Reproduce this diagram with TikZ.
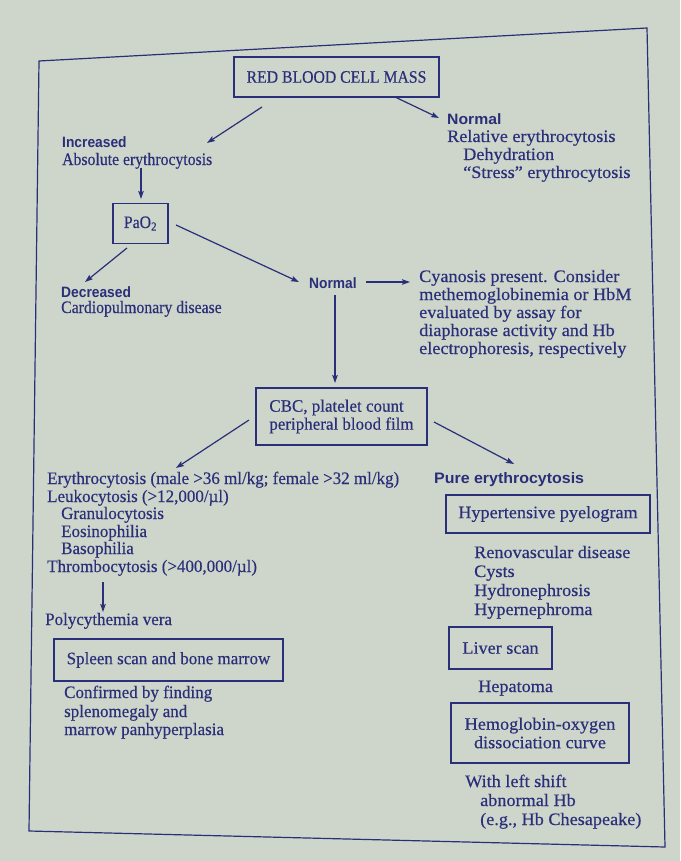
\documentclass[tikz,border=0pt]{standalone}
\usepackage{fontspec}
\setmainfont{Liberation Serif}[FakeStretch=0.9,FakeBold=0.35]
\newfontfamily\lser{Liberation Serif}[FakeStretch=0.97,FakeBold=0.35]
\newfontfamily\rser{Liberation Serif}[FakeStretch=1.04,FakeBold=0.35]
\newfontfamily\hsf{Liberation Sans}[FakeStretch=0.92]
\newfontfamily\hsfr{Liberation Sans}[FakeStretch=1.05]
\usetikzlibrary{arrows.meta}
\definecolor{bg}{RGB}{206,213,202}
\definecolor{ink}{RGB}{42,47,122}
\begin{document}
\begin{tikzpicture}[x=1pt,y=-1pt,
 txt/.style={anchor=base west,inner sep=0pt,text=ink,font=\fontsize{17.5}{18}\selectfont},
 txtl/.style={txt,font=\lser\fontsize{17.5}{18}\selectfont},
 txtr/.style={txt,font=\rser\fontsize{17.5}{18.5}\selectfont},
 lbl/.style={anchor=base west,inner sep=0pt,text=ink,font=\hsf\bfseries\fontsize{15}{17}\selectfont},
 lblr/.style={lbl,font=\hsfr\bfseries\fontsize{15}{17}\selectfont},
 box/.style={draw=ink,line width=1.5pt,text=ink,inner sep=0pt,font=\fontsize{17.5}{18}\selectfont,align=center},
 boxl/.style={box,font=\lser\fontsize{17.5}{18}\selectfont},
 boxr/.style={box,font=\rser\fontsize{17.5}{18.5}\selectfont},
 arr/.style={draw=ink,line width=1.2pt,-{Stealth[length=8pt,width=5.5pt,inset=1.5pt]}},
 frame/.style={draw=ink,line width=1.2pt}]
\fill[bg] (0,0) rectangle (680,861);
\useasboundingbox (0,0) rectangle (680,861);
\draw[frame] (39,61) -- (647,28) -- (665,847) -- (29,831) -- cycle;

% top
\node[box,minimum width=205pt,minimum height=40pt] (rbc) at (336.5,77) {RED BLOOD CELL MASS};
\node[lbl] (incr) at (62,148) {Increased};
\node[txt] (abs) at (62,165) {Absolute erythrocytosis};
\node[lblr] (norm1) at (447,125) {Normal};
\node[txtr] (rel) at (447,142) {Relative erythrocytosis};
\node[txtr] (dehyd) at (463,160) {Dehydration};
\node[txtr] (stress) at (463,178) {“Stress” erythrocytosis};

% PaO2
\node[box,minimum width=55pt,minimum height=40pt] (pao) at (140.5,223.5) {PaO\textsubscript{2}};
\node[lbl] (decr) at (61,297) {Decreased};
\node[txt] (cardio) at (61,313) {Cardiopulmonary disease};
\node[lbl] (norm2) at (309,288) {Normal};
\node[txtr] (cy1) at (419,282) {Cyanosis present. Consider};
\node[txtr] (cy2) at (419,300) {methemoglobinemia or HbM};
\node[txtr] (cy3) at (419,318) {evaluated by assay for};
\node[txtr] (cy4) at (419,336) {diaphorase activity and Hb};
\node[txtr] (cy5) at (419,354) {electrophoresis, respectively};

% CBC
\node[boxl,minimum width=171pt,minimum height=57pt,align=left] (cbc) at (341.5,416.5) {CBC, platelet count\\peripheral blood film};

% left column
\node[txtl] (ery) at (47,484) {Erythrocytosis (male >36 ml/kg; female >32 ml/kg)};
\node[txtl] (leuk) at (47,502) {Leukocytosis (>12,000/µl)};
\node[txtl] (gran) at (61,519) {Granulocytosis};
\node[txtl] (eos) at (61,537) {Eosinophilia};
\node[txtl] (baso) at (61,554) {Basophilia};
\node[txtl] (thromb) at (47,572) {Thrombocytosis (>400,000/µl)};
\node[txtl] (pv) at (45,625) {Polycythemia vera};
\node[boxl,minimum width=229pt,minimum height=42pt] (spleen) at (168.5,660) {Spleen scan and bone marrow};
\node[txtl] (conf1) at (64,698) {Confirmed by finding};
\node[txtl] (conf2) at (64,717) {splenomegaly and};
\node[txtl] (conf3) at (64,735) {marrow panhyperplasia};

% right column
\node[lblr,font=\hsfr\bfseries\fontsize{15.2}{18}\selectfont] (pure) at (434,483) {Pure erythrocytosis};
\node[boxr,minimum width=204pt,minimum height=38pt] (hyp) at (548,514) {Hypertensive pyelogram};
\node[txtr] (ren) at (474,558) {Renovascular disease};
\node[txtr] (cysts) at (474,577) {Cysts};
\node[txtr] (hydro) at (474,596) {Hydronephrosis};
\node[txtr] (hyper) at (474,615) {Hypernephroma};
\node[boxr,minimum width=103pt,minimum height=42pt] (liver) at (500.5,648) {Liver scan};
\node[txtr] (hep) at (478,692) {Hepatoma};
\node[boxr,minimum width=178pt,minimum height=60pt] (hemo) at (540,733) {Hemoglobin-oxygen\\dissociation curve};
\node[txtr] (shift) at (465,787) {With left shift};
\node[txtr] (abn) at (480,806) {abnormal Hb};
\node[txtr] (eg) at (480,825) {(e.g., Hb Chesapeake)};

% connector ends
\coordinate (rbcL) at (262,107);
\coordinate (incrE) at (207,143);
\coordinate (rbcR) at (395,97);
\coordinate (norm1E) at (439,118);
\coordinate (absS) at (141,168);
\coordinate (paoN) at (141,199);
\coordinate (paoR) at (176,225);
\coordinate (norm2W) at (299,282);
\coordinate (paoB) at (127,248);
\coordinate (decrN) at (85,282);
\coordinate (norm2E) at (366,282);
\coordinate (cyW) at (410,282);
\coordinate (norm2S) at (335,295);
\coordinate (cbcN) at (335,383);
\coordinate (cbcL) at (249,420);
\coordinate (eryN) at (176,468);
\coordinate (cbcR) at (434,422);
\coordinate (pureN) at (514,464);
\coordinate (thrS) at (103,582);
\coordinate (pvN) at (103,612);

\draw[arr] (rbcL) -- (incrE);
\draw[arr] (rbcR) -- (norm1E);
\draw[arr] (absS) -- (paoN);
\draw[arr] (paoR) -- (norm2W);
\draw[arr] (paoB) -- (decrN);
\draw[arr] (norm2E) -- (cyW);
\draw[arr] (norm2S) -- (cbcN);
\draw[arr] (cbcL) -- (eryN);
\draw[arr] (cbcR) -- (pureN);
\draw[arr] (thrS) -- (pvN);
\end{tikzpicture}
\end{document}
